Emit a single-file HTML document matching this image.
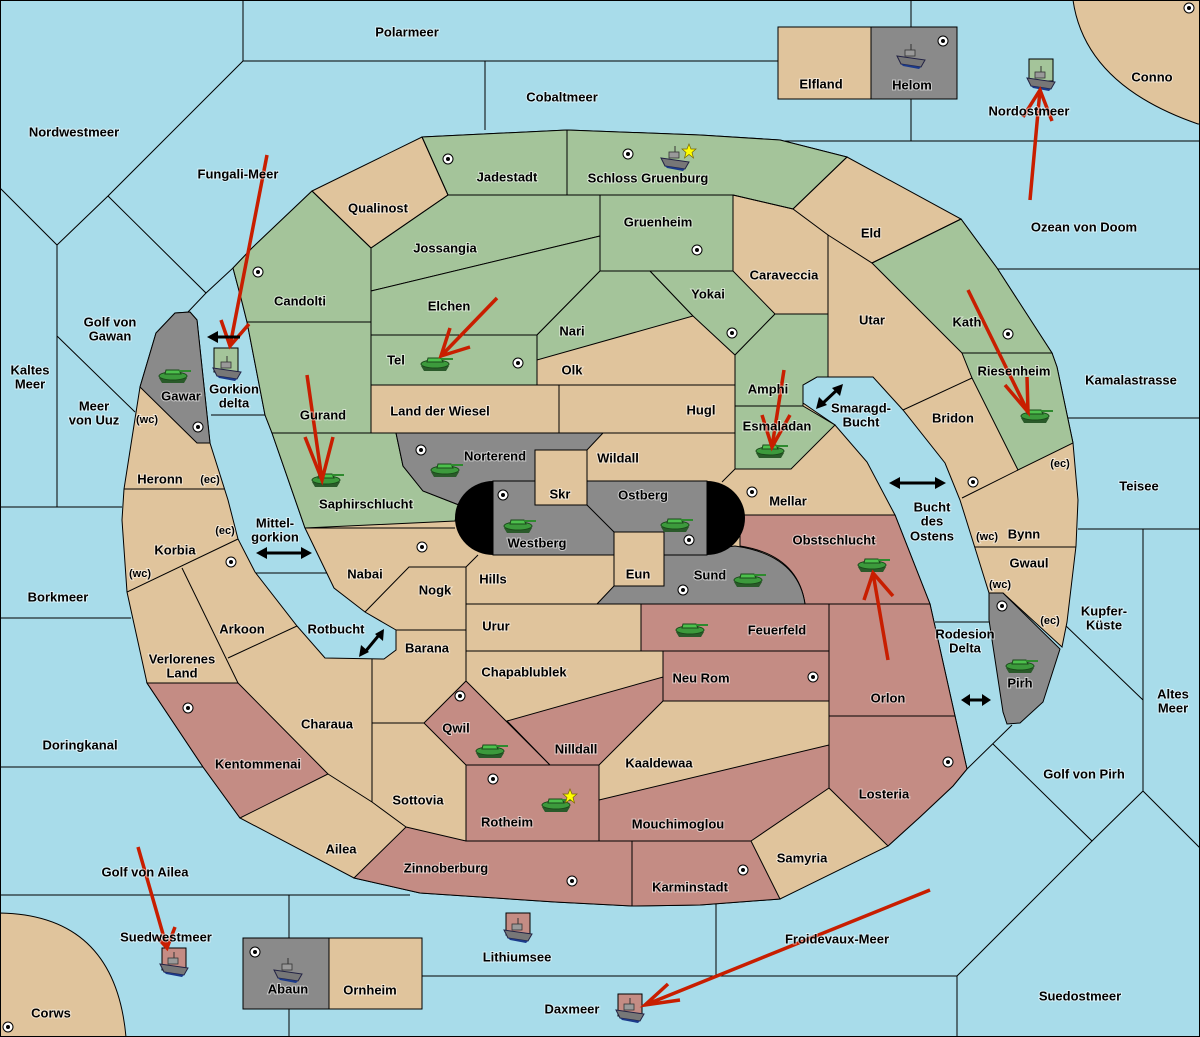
<!DOCTYPE html>
<html><head><meta charset="utf-8"><style>
html,body{margin:0;padding:0;background:#a8dcea}
svg{display:block}
text{font-family:"Liberation Sans",sans-serif;font-weight:bold;font-size:13px;fill:#000;text-anchor:middle;dominant-baseline:central;paint-order:stroke;stroke:#fff;stroke-width:2px;stroke-opacity:.55}
text.s{font-size:11px}
.b{fill:#e0c49c;stroke:#000;stroke-width:1}
.g{fill:#a4c49a;stroke:#000;stroke-width:1}
.r{fill:#c48c84;stroke:#000;stroke-width:1}
.k{fill:#8a8a8a;stroke:#000;stroke-width:1}
.l{fill:none;stroke:#000;stroke-width:1}
.ar{fill:none;stroke:#c81e00;stroke-width:3.5}
.da{stroke:#000;stroke-width:3;fill:none}
</style></head><body>
<svg width="1200" height="1037" viewBox="0 0 1200 1037" xmlns="http://www.w3.org/2000/svg">
<defs>
<g id="tank">
<path d="M-14,4 L14,4 L11,9 L-11,9 Z" fill="#2a5a2a"/>
<ellipse cx="0" cy="2" rx="14" ry="4" fill="#3c9a3c" stroke="#1a4a1a" stroke-width="1"/>
<path d="M-7,-4 L6,-4 L8,0 L-8,0 Z" fill="#4cc04c" stroke="#1a4a1a" stroke-width="1"/>
<rect x="6" y="-4" width="12" height="2" fill="#2e8a2e"/>
</g>
<g id="ship">
<path d="M-14,-2 L14,2 L10,9 L-10,6 Z" fill="#777" stroke="#224" stroke-width="1"/>
<path d="M-10,6 L10,9 L8,11 L-8,8 Z" fill="#1b3a8a"/>
<rect x="-6" y="-8" width="10" height="6" fill="#999" stroke="#333" stroke-width=".8"/>
<line x1="0" y1="-14" x2="0" y2="-8" stroke="#333"/>
</g>
<g id="sc"><circle r="5" fill="#fff" stroke="#000"/><circle r="2" fill="#000"/></g>
<g id="star"><path d="M0,-7 L2,-2 L7,-2 L3,1.5 L4.5,7 L0,3.5 L-4.5,7 L-3,1.5 L-7,-2 L-2,-2 Z" fill="#ffff00" stroke="#776600" stroke-width=".7"/></g>
</defs>
<rect width="1200" height="1037" fill="#a8dcea"/>
<g class="l">
<polyline points="243,0 243,61 778,61"/>
<polyline points="485,61 485,130"/>
<polyline points="243,61 108,196 57,245 0,188"/>
<polyline points="108,196 206,293 233,268"/>
<polyline points="206,293 188,312"/>
<polyline points="57,245 57,507"/>
<polyline points="57,336 135,412"/>
<polyline points="0,507 122,507"/>
<polyline points="0,618 131,618"/>
<polyline points="0,767 203,767"/>
<polyline points="0,895 410,895"/>
<polyline points="289,895 289,1037"/>
<polyline points="422,976 957,976"/>
<polyline points="716,903 716,976"/>
<polyline points="211,415 265,415"/>
<polyline points="255,573 330,573"/>
<polyline points="911,0 911,27"/>
<polyline points="911,99 911,141"/>
<polyline points="780,141 1200,141"/>
<polyline points="997,269 1200,269"/>
<polyline points="1068,418 1200,418"/>
<polyline points="1078,529 1200,529"/>
<polyline points="1143,529 1143,791"/>
<polyline points="1065,625 1143,700"/>
<polyline points="1143,791 1200,848"/>
<polyline points="1143,791 1092,841 993,744"/>
<polyline points="1092,841 957,976 957,1037"/>
<polyline points="1012,725 967,769"/>
<polyline points="935,622 989,622"/>
</g>
<path d="M1073,0 Q1085,85 1198,124 L1200,124 L1200,0 Z" class="b"/>
<path d="M0,913 Q115,915 126,1037 L0,1037 Z" class="b"/>
<rect x="778" y="27" width="93" height="72" class="b"/>
<rect x="871" y="27" width="86" height="72" class="k"/>
<rect x="243" y="938" width="86" height="71" class="k"/>
<rect x="329" y="938" width="93" height="71" class="b"/>
<polygon class="b" points="312,191 422,137 567,130 700,135 780,140 847,157 961,219 997,268 1052,353 1057,367 1073,443 1078,500 1076,546 1067,622 1062,647 1003,593 989,593 975,548 960,500 945,463 903,410 883,388 873,377 817,377 803,385 803,403 835,425 867,462 895,515 930,604 955,716 967,769 953,786 920,817 888,846 780,899 700,905 632,906 555,902 420,893 354,878 240,818 203,767 147,683 127,592 122,520 124,489 140,387 156,333 175,313 190,312 197,320 210,443 228,500 238,539 255,572 297,626 325,658 384,659 396,650 396,630 365,612 334,588 305,528 272,433 265,415 247,322 242,302 233,268 252,248"/>
<polygon class="k" points="140,387 156,333 175,313 190,312 197,320 210,443 197,443"/>
<polygon class="k" points="989,593 1003,593 1060,649 1043,702 1020,723 1007,724 1003,712 989,620"/>
<polygon class="g" points="233,268 252,248 312,191 371,248 371,322 247,322 242,302"/>
<polygon class="g" points="422,137 567,130 567,195 448,195"/>
<polygon class="g" points="567,130 700,135 780,140 847,157 793,209 733,195 567,195"/>
<polygon class="g" points="371,248 448,195 600,195 600,236 371,291"/>
<polygon class="g" points="371,291 600,236 600,271 537,335 371,335"/>
<polygon class="g" points="600,195 733,195 733,271 600,271"/>
<polygon class="g" points="537,335 600,271 650,271 693,316 537,360"/>
<polygon class="g" points="650,271 733,271 775,314 735,355 693,316"/>
<rect class="g" x="371" y="335" width="166" height="50"/>
<polygon class="g" points="247,322 371,322 371,433 272,433 265,415"/>
<polygon class="g" points="272,433 396,433 403,466 423,491 459,505 455,521 305,528"/>
<polygon class="g" points="735,355 775,314 828,314 828,377 817,377 803,385 803,406 735,406"/>
<polygon class="g" points="735,406 803,406 835,425 791,469 735,469"/>
<polygon class="g" points="872,263 961,219 997,268 1052,353 962,353 917,308"/>
<polygon class="g" points="962,353 1052,353 1057,367 1073,443 1018,470 972,378"/>
<polygon class="k" points="396,433 603,433 587,450 535,450 535,481 493,481 459,505 423,491 403,466"/>
<path class="r" d="M740,515 L895,515 L930,604 L805,604 Q798,555 740,546 Z"/>
<path class="k" d="M597,604 L614,586 L664,586 L664,555 L735,546 Q798,555 805,604 Z"/>
<rect class="k" x="493" y="481" width="214" height="74"/>
<path d="M493,481 A38,37 0 0 0 493,555 Z" fill="#000"/>
<path d="M707,481 A38,37 0 0 1 707,555 Z" fill="#000"/>
<rect class="b" x="535" y="450" width="52" height="55"/>
<rect class="b" x="614" y="532" width="50" height="54"/>
<polyline class="l" points="587,505 614,532"/>
<rect class="r" x="641" y="604" width="188" height="47"/>
<rect class="r" x="663" y="651" width="166" height="50"/>
<polygon class="r" points="829,604 930,604 955,716 829,716"/>
<polygon class="r" points="829,716 955,716 967,769 953,786 920,817 888,846 829,788"/>
<polygon class="r" points="599,800 829,745 829,788 751,841 599,841"/>
<polygon class="r" points="632,841 751,841 780,899 700,905 632,906"/>
<polygon class="r" points="406,827 466,841 632,841 632,906 555,902 420,893 354,878"/>
<rect class="r" x="466" y="765" width="133" height="76"/>
<polygon class="r" points="466,681 550,765 466,765 424,723"/>
<polygon class="r" points="507,721 663,677 663,701 599,765 550,765"/>
<polygon class="r" points="147,683 238,683 328,774 240,818 203,767"/>
<g class="l">
<polyline points="422,137 448,195 371,248 312,191"/>
<polyline points="124,489 224,489"/>
<polyline points="127,592 238,539"/>
<polyline points="182,568 238,683"/>
<polyline points="228,658 297,626"/>
<polyline points="328,774 372,802 406,827"/>
<polyline points="372,659 372,802"/>
<polyline points="372,723 424,723"/>
<polyline points="396,630 466,630"/>
<polyline points="466,567 466,681"/>
<polyline points="365,612 409,567 466,567 478,555"/>
<polyline points="466,604 597,604"/>
<polyline points="466,651 641,651"/>
<polyline points="663,651 663,677"/>
<polyline points="305,528 455,528"/>
<polyline points="371,385 735,385"/>
<polyline points="371,433 735,433"/>
<polyline points="559,385 559,433"/>
<polyline points="735,385 735,469"/>
<polyline points="722,482 735,469"/>
<polyline points="733,195 793,209 828,235 828,377"/>
<polyline points="828,235 872,263 961,219"/>
<polyline points="793,209 847,157"/>
<polyline points="903,410 972,378"/>
<polyline points="962,498 1018,470"/>
<polyline points="975,547 1076,547"/>
<polyline points="599,765 599,800"/>
<polyline points="829,701 829,745"/>
</g>
<rect class="g" x="214" y="348" width="24" height="24"/>
<rect class="g" x="1029" y="59" width="24" height="22"/>
<rect class="r" x="162" y="948" width="24" height="22"/>
<rect class="r" x="506" y="913" width="24" height="22"/>
<rect class="r" x="618" y="994" width="24" height="22"/>
<g>
<use href="#sc" x="448" y="159"/><use href="#sc" x="628" y="154"/><use href="#sc" x="697" y="250"/>
<use href="#sc" x="258" y="272"/><use href="#sc" x="518" y="363"/><use href="#sc" x="732" y="333"/>
<use href="#sc" x="1008" y="334"/><use href="#sc" x="973" y="482"/><use href="#sc" x="198" y="427"/>
<use href="#sc" x="231" y="562"/><use href="#sc" x="188" y="708"/><use href="#sc" x="422" y="547"/>
<use href="#sc" x="421" y="450"/><use href="#sc" x="503" y="495"/><use href="#sc" x="689" y="540"/>
<use href="#sc" x="683" y="590"/><use href="#sc" x="752" y="492"/><use href="#sc" x="813" y="677"/>
<use href="#sc" x="460" y="696"/><use href="#sc" x="493" y="779"/><use href="#sc" x="572" y="881"/>
<use href="#sc" x="743" y="870"/><use href="#sc" x="948" y="762"/><use href="#sc" x="1002" y="606"/>
<use href="#sc" x="943" y="41"/><use href="#sc" x="1189" y="8"/><use href="#sc" x="8" y="1027"/>
<use href="#sc" x="255" y="952"/>
</g>
<g>
<use href="#tank" x="173" y="374"/><use href="#tank" x="435" y="362"/><use href="#tank" x="326" y="478"/>
<use href="#tank" x="445" y="468"/><use href="#tank" x="518" y="524"/><use href="#tank" x="675" y="523"/>
<use href="#tank" x="748" y="578"/><use href="#tank" x="770" y="449"/><use href="#tank" x="1035" y="414"/>
<use href="#tank" x="872" y="563"/><use href="#tank" x="690" y="628"/><use href="#tank" x="490" y="749"/>
<use href="#tank" x="556" y="803"/><use href="#tank" x="1020" y="664"/>
<use href="#ship" x="227" y="370"/><use href="#ship" x="911" y="58"/><use href="#ship" x="1041" y="80"/>
<use href="#ship" x="675" y="160"/><use href="#ship" x="174" y="966"/><use href="#ship" x="518" y="932"/>
<use href="#ship" x="630" y="1012"/><use href="#ship" x="288" y="972"/>
<use href="#star" x="689" y="151"/><use href="#star" x="570" y="796"/>
</g>
<g class="ar">
<polyline points="267,155 230,346"/><polyline points="221,320 230,346 249,324"/>
<polyline points="497,298 441,356"/><polyline points="450,328 441,356 470,347"/>
<polyline points="307,375 322,480"/><polyline points="305,437 322,480 333,437"/>
<polyline points="784,370 772,447"/><polyline points="762,415 772,447 790,415"/>
<polyline points="1030,200 1040,90"/><polyline points="1023,117 1040,90 1052,121"/>
<polyline points="968,290 1028,412"/><polyline points="1005,385 1028,412 1027,377"/>
<polyline points="888,660 873,573"/><polyline points="864,600 873,573 893,596"/>
<polyline points="138,847 167,948"/><polyline points="157,937 167,948 175,927"/>
<polyline points="930,890 645,1005"/><polyline points="668,984 645,1005 680,1000"/>
</g>
<g>
<line class="da" x1="216" y1="337" x2="240" y2="337"/><path d="M207,337 L218,331 L218,343 Z"/>
<line class="da" x1="265" y1="553" x2="303" y2="553"/><path d="M256,553 L267,547 L267,559 Z M312,553 L301,547 L301,559 Z"/>
<line class="da" x1="365" y1="652" x2="379" y2="635"/><path d="M359,657 L361,645 L369,652 Z M384,629 L383,641 L375,634 Z"/>
<line class="da" x1="822" y1="404" x2="838" y2="389"/><path d="M816,409 L819,397 L827,405 Z M843,384 L840,396 L832,388 Z"/>
<line class="da" x1="898" y1="483" x2="937" y2="483"/><path d="M889,483 L900,477 L900,489 Z M946,483 L935,477 L935,489 Z"/>
<line class="da" x1="968" y1="700" x2="984" y2="700"/><path d="M961,700 L970,694 L970,706 Z M991,700 L982,694 L982,706 Z"/>
</g>
<g>
<text x="407" y="32">Polarmeer</text><text x="562" y="97">Cobaltmeer</text><text x="74" y="132">Nordwestmeer</text>
<text x="238" y="174">Fungali-Meer</text><text x="110" y="322">Golf von</text><text x="110" y="336">Gawan</text>
<text x="30" y="370">Kaltes</text><text x="30" y="384">Meer</text><text x="94" y="406">Meer</text><text x="94" y="420">von Uuz</text>
<text class="s" x="147" y="420">(wc)</text><text x="181" y="396">Gawar</text><text x="234" y="389">Gorkion</text><text x="234" y="403">delta</text>
<text x="160" y="479">Heronn</text><text class="s" x="210" y="480">(ec)</text><text x="175" y="550">Korbia</text>
<text class="s" x="225" y="531">(ec)</text><text class="s" x="140" y="574">(wc)</text><text x="275" y="523">Mittel-</text><text x="275" y="537">gorkion</text>
<text x="58" y="597">Borkmeer</text><text x="242" y="629">Arkoon</text><text x="182" y="659">Verlorenes</text><text x="182" y="673">Land</text>
<text x="336" y="629">Rotbucht</text><text x="80" y="745">Doringkanal</text><text x="258" y="764">Kentommenai</text>
<text x="327" y="724">Charaua</text><text x="418" y="800">Sottovia</text><text x="341" y="849">Ailea</text>
<text x="145" y="872">Golf von Ailea</text><text x="166" y="937">Suedwestmeer</text><text x="51" y="1013">Corws</text>
<text x="288" y="989">Abaun</text><text x="370" y="990">Ornheim</text><text x="517" y="957">Lithiumsee</text>
<text x="572" y="1009">Daxmeer</text><text x="446" y="868">Zinnoberburg</text><text x="690" y="887">Karminstadt</text>
<text x="802" y="858">Samyria</text><text x="837" y="939">Froidevaux-Meer</text><text x="1080" y="996">Suedostmeer</text>
<text x="1084" y="774">Golf von Pirh</text><text x="1173" y="694">Altes</text><text x="1173" y="708">Meer</text>
<text x="1104" y="611">Kupfer-</text><text x="1104" y="625">Küste</text><text x="1020" y="683">Pirh</text>
<text class="s" x="1050" y="621">(ec)</text><text class="s" x="1000" y="585">(wc)</text><text x="1029" y="563">Gwaul</text>
<text x="1024" y="534">Bynn</text><text class="s" x="987" y="537">(wc)</text><text x="1139" y="486">Teisee</text>
<text class="s" x="1060" y="464">(ec)</text><text x="965" y="634">Rodesion</text><text x="965" y="648">Delta</text>
<text x="932" y="507">Bucht</text><text x="932" y="521">des</text><text x="932" y="536">Ostens</text>
<text x="884" y="794">Losteria</text><text x="888" y="698">Orlon</text><text x="834" y="540">Obstschlucht</text>
<text x="777" y="630">Feuerfeld</text><text x="701" y="678">Neu Rom</text><text x="659" y="763">Kaaldewaa</text>
<text x="678" y="824">Mouchimoglou</text><text x="507" y="822">Rotheim</text><text x="576" y="749">Nilldall</text>
<text x="456" y="728">Qwil</text><text x="524" y="672">Chapablublek</text><text x="496" y="626">Urur</text>
<text x="427" y="648">Barana</text><text x="493" y="579">Hills</text><text x="435" y="590">Nogk</text>
<text x="365" y="574">Nabai</text><text x="638" y="574">Eun</text><text x="710" y="575">Sund</text>
<text x="537" y="543">Westberg</text><text x="643" y="495">Ostberg</text><text x="560" y="494">Skr</text>
<text x="788" y="501">Mellar</text><text x="618" y="458">Wildall</text><text x="495" y="456">Norterend</text>
<text x="366" y="504">Saphirschlucht</text><text x="323" y="415">Gurand</text><text x="440" y="411">Land der Wiesel</text>
<text x="701" y="410">Hugl</text><text x="396" y="360">Tel</text><text x="572" y="370">Olk</text>
<text x="572" y="331">Nari</text><text x="449" y="306">Elchen</text><text x="300" y="301">Candolti</text>
<text x="445" y="248">Jossangia</text><text x="378" y="208">Qualinost</text><text x="507" y="177">Jadestadt</text>
<text x="648" y="178">Schloss Gruenburg</text><text x="658" y="222">Gruenheim</text><text x="708" y="294">Yokai</text>
<text x="784" y="275">Caraveccia</text><text x="871" y="233">Eld</text><text x="872" y="320">Utar</text>
<text x="768" y="389">Amphi</text><text x="777" y="426">Esmaladan</text><text x="861" y="408">Smaragd-</text><text x="861" y="422">Bucht</text>
<text x="953" y="418">Bridon</text><text x="967" y="322">Kath</text><text x="1014" y="371">Riesenheim</text>
<text x="1131" y="380">Kamalastrasse</text><text x="1084" y="227">Ozean von Doom</text><text x="1029" y="111">Nordostmeer</text>
<text x="1152" y="77">Conno</text><text x="821" y="84">Elfland</text><text x="912" y="85">Helom</text>
</g>
<rect x="0.5" y="0.5" width="1199" height="1036" fill="none" stroke="#000"/>
</svg>
</body></html>
